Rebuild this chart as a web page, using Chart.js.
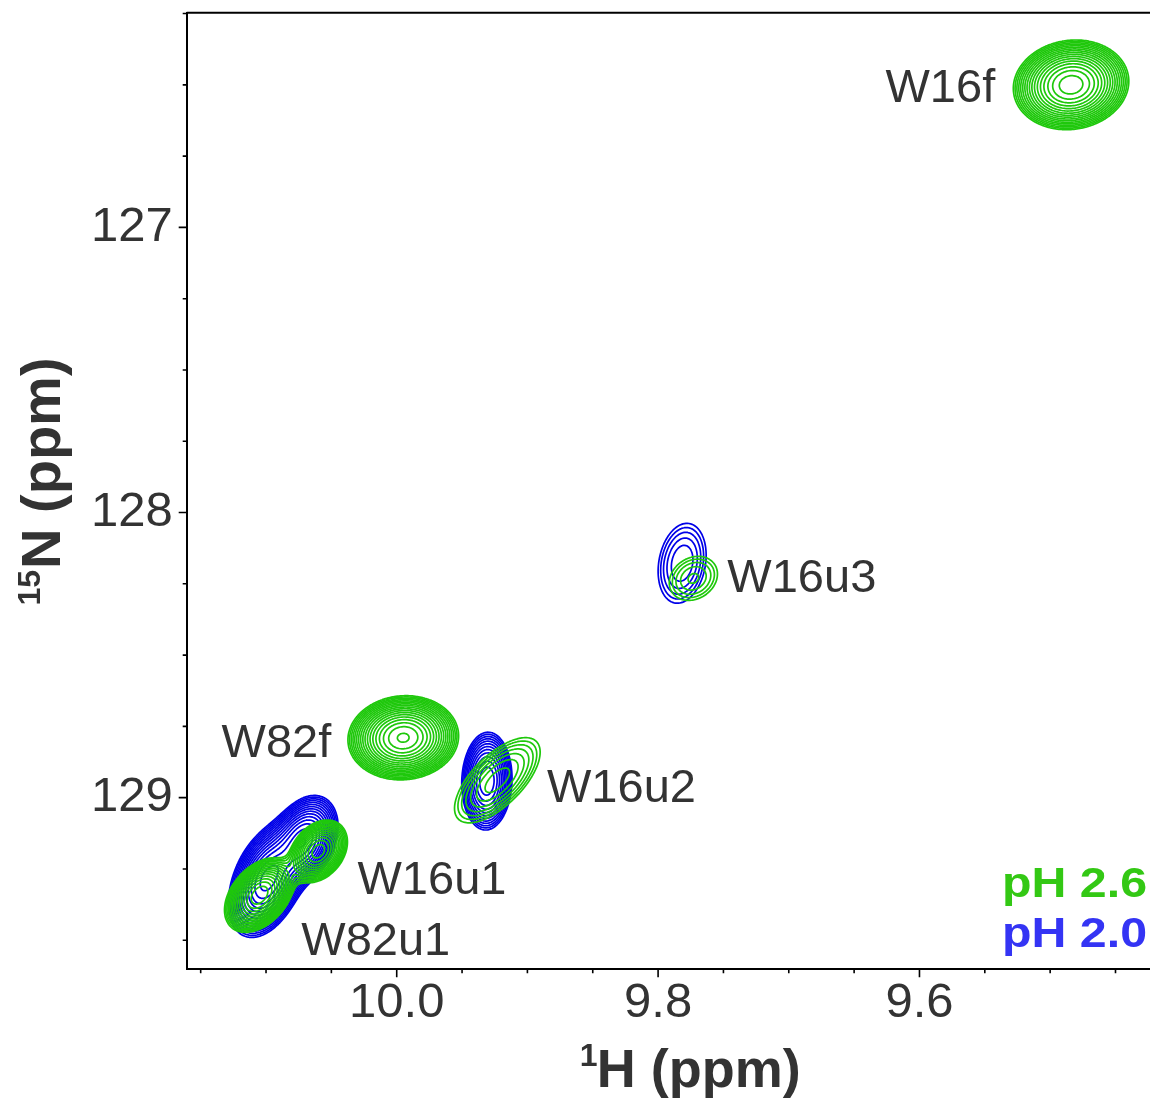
<!DOCTYPE html>
<html>
<head>
<meta charset="utf-8">
<script src="https://cdn.jsdelivr.net/npm/chart.js@4"></script>
<style>
  html, body { margin: 0; padding: 0; background: #fff; overflow: hidden; }
  #wrap { width: 1150px; height: 1098px; position: relative; }
</style>
</head>
<body>
<div id="wrap"><canvas id="myChart"></canvas></div>
<script>
var ctx = document.getElementById("myChart").getContext("2d");

// axis ticks (1H and 15N, both reversed)
const xTicks = [10.15, 10.10, 10.05, 10.00, 9.95, 9.90, 9.85, 9.80, 9.75, 9.70, 9.65, 9.60, 9.55, 9.50, 9.45];
const xTickLabels = ["10.0", "9.8", "9.6"];
const yTicks = [126.25, 126.5, 126.75, 127, 127.25, 127.5, 127.75, 128, 128.25, 128.5, 128.75, 129, 129.25, 129.5];
const yTickLabels = ["127", "128", "129"];

// contour levels (multiples of the base level)
const levels = [1.00, 1.20, 1.44, 1.73, 2.07, 2.49, 2.99, 3.58, 4.30, 5.16, 6.19, 7.43, 8.92, 10.70, 12.84, 15.41, 18.49, 22.19, 26.62];

// pH 2.6 peaks (green)
const greenNames  = ["W16f", "W82f", "W16u2", "W16u3", "W16u1", "W82u1"];
const greenShiftH = [9.484, 9.995, 9.923, 9.773, 10.060, 10.105];
const greenShiftN = [126.500, 128.790, 128.939, 128.231, 129.188, 129.342];
const greenHeight = [21, 23, 3.3, 2.15, 12, 15];
const greenWidthH = [0.0179, 0.0169, 0.0212, 0.0149, 0.0100, 0.0115];
const greenWidthN = [0.0637, 0.0589, 0.0967, 0.0624, 0.0491, 0.0561];
const greenCorr   = [0.08, 0.05, 0.66, 0.2, 0.3, 0.4];

// pH 2.0 peaks (blue)
const blueNames  = ["W16u2", "W16u3", "W16u1", "W82u1"];
const blueShiftH = [9.931, 9.7816, 10.0705, 10.0989];
const blueShiftN = [128.942, 128.178, 129.149, 129.289];
const blueHeight = [8.9, 2.49, 12, 14];
const blueWidthH = [0.0092, 0.0136, 0.0115, 0.0130];
const blueWidthN = [0.0820, 0.1037, 0.0701, 0.0876];
const blueCorr   = [0.05, 0.2, 0.3, 0.4];

// peak assignment labels (left edge / baseline)
const peakLabels = ["W16f", "W16u3", "W82f", "W16u2", "W16u1", "W82u1"];
const labelH = [9.626, 9.747, 10.134, 9.885, 10.030, 10.073];
const labelN = [126.559, 128.280, 128.858, 129.016, 129.338, 129.552];

const GREEN = "#1fc80c";
const BLUE = "#0000e8";
const FONT = '"Liberation Sans", Arial, sans-serif';

function makePeaks(h, n, amp, wh, wn, rho) {
  return h.map((v, i) => ({ h: v, n: n[i], amp: amp[i], wh: wh[i], wn: wn[i], rho: rho[i] }));
}
const greenPeaks = makePeaks(greenShiftH, greenShiftN, greenHeight, greenWidthH, greenWidthN, greenCorr);
const bluePeaks = makePeaks(blueShiftH, blueShiftN, blueHeight, blueWidthH, blueWidthN, blueCorr);

function tickText(v, labels) {
  for (const l of labels) if (Math.abs(parseFloat(l) - v) < 1e-6) return l;
  return "";
}

// contour drawing: gaussian sum on a pixel grid, marching squares
function drawContours(chart, peaks, color) {
  const c = chart.ctx, area = chart.chartArea, xs = chart.scales.x, ys = chart.scales.y;
  const g = peaks.map(p => {
    const cx = xs.getPixelForValue(p.h), cy = ys.getPixelForValue(p.n);
    const sx = Math.abs(xs.getPixelForValue(p.h + p.wh) - cx);
    const sy = Math.abs(ys.getPixelForValue(p.n + p.wn) - cy);
    const sgn = Math.sign(xs.getPixelForValue(p.h + 1) - cx) * Math.sign(ys.getPixelForValue(p.n + 1) - cy);
    const r = p.rho * sgn;
    return { cx, cy, sx, sy, r, k: 1 / (1 - r * r), a: p.amp };
  });
  let x0 = Infinity, x1 = -Infinity, y0 = Infinity, y1 = -Infinity;
  g.forEach(p => {
    x0 = Math.min(x0, p.cx - 4.5 * p.sx); x1 = Math.max(x1, p.cx + 4.5 * p.sx);
    y0 = Math.min(y0, p.cy - 4.5 * p.sy); y1 = Math.max(y1, p.cy + 4.5 * p.sy);
  });
  x0 = Math.max(x0, area.left); x1 = Math.min(x1, area.right);
  y0 = Math.max(y0, area.top); y1 = Math.min(y1, area.bottom);
  const st = 1.5;
  const nx = Math.floor((x1 - x0) / st) + 1, ny = Math.floor((y1 - y0) / st) + 1;
  const f = new Float32Array(nx * ny);
  for (let j = 0; j < ny; j++) {
    const py = y0 + j * st;
    for (let i = 0; i < nx; i++) {
      const px = x0 + i * st;
      let v = 0;
      for (const p of g) {
        const dx = (px - p.cx) / p.sx, dy = (py - p.cy) / p.sy;
        const q = (dx * dx - 2 * p.r * dx * dy + dy * dy) * p.k;
        if (q < 40) v += p.a * Math.exp(-0.5 * q);
      }
      f[j * nx + i] = v;
    }
  }
  c.save();
  c.beginPath();
  c.rect(area.left, area.top, area.right - area.left, area.bottom - area.top);
  c.clip();
  c.strokeStyle = color;
  c.lineWidth = 1.7;
  c.lineCap = "round";
  c.lineJoin = "round";
  for (const L of levels) {
    c.beginPath();
    for (let j = 0; j < ny - 1; j++) {
      for (let i = 0; i < nx - 1; i++) {
        const a = f[j * nx + i], b = f[j * nx + i + 1], cc = f[(j + 1) * nx + i + 1], d = f[(j + 1) * nx + i];
        const idx = (a > L ? 8 : 0) | (b > L ? 4 : 0) | (cc > L ? 2 : 0) | (d > L ? 1 : 0);
        if (idx === 0 || idx === 15) continue;
        const x = x0 + i * st, y = y0 + j * st;
        const T = () => [x + st * (L - a) / (b - a), y];
        const R = () => [x + st, y + st * (L - b) / (cc - b)];
        const B = () => [x + st * (L - d) / (cc - d), y + st];
        const Lf = () => [x, y + st * (L - a) / (d - a)];
        const seg = (p, q) => { c.moveTo(p[0], p[1]); c.lineTo(q[0], q[1]); };
        switch (idx) {
          case 1: case 14: seg(Lf(), B()); break;
          case 2: case 13: seg(B(), R()); break;
          case 3: case 12: seg(Lf(), R()); break;
          case 4: case 11: seg(T(), R()); break;
          case 6: case 9: seg(T(), B()); break;
          case 7: case 8: seg(Lf(), T()); break;
          case 5: seg(Lf(), T()); seg(B(), R()); break;
          case 10: seg(T(), R()); seg(Lf(), B()); break;
        }
      }
    }
    c.stroke();
  }
  c.restore();
}

const spectrumPlugin = {
  id: "spectrum",
  beforeDatasetsDraw(chart) {
    drawContours(chart, bluePeaks, BLUE);
    drawContours(chart, greenPeaks, GREEN);
  },
  afterDraw(chart) {
    const c = chart.ctx, area = chart.chartArea, xs = chart.scales.x, ys = chart.scales.y;
    c.save();
    // frame top
    c.strokeStyle = "#000";
    c.lineWidth = 2;
    c.beginPath();
    c.moveTo(area.left, area.top);
    c.lineTo(area.right, area.top);
    c.stroke();
    // ticks
    c.lineWidth = 1.6;
    c.beginPath();
    xTicks.forEach(v => {
      const px = xs.getPixelForValue(v);
      const len = tickText(v, xTickLabels) ? 8 : 4;
      c.moveTo(px, area.bottom); c.lineTo(px, area.bottom + len);
    });
    yTicks.forEach(v => {
      const py = ys.getPixelForValue(v);
      const len = tickText(v, yTickLabels) ? 8 : 4;
      c.moveTo(area.left, py); c.lineTo(area.left - len, py);
    });
    c.stroke();

    // peak labels
    c.fillStyle = "#333";
    c.font = "47px " + FONT;
    c.textAlign = "left";
    c.textBaseline = "alphabetic";
    peakLabels.forEach((t, i) => {
      c.fillText(t, xs.getPixelForValue(labelH[i]), ys.getPixelForValue(labelN[i]));
    });

    // axis titles
    const bold = s => "bold " + s + "px " + FONT;
    c.fillStyle = "#333";
    c.font = bold(32);
    c.fillText("1", area.left + 393, 1066);
    c.font = bold(54);
    c.fillText("H (ppm)", area.left + 410, 1087);

    c.translate(60, (area.top + area.bottom) / 2 - 9);
    c.rotate(-Math.PI / 2);
    c.font = bold(32);
    const w1 = c.measureText("15").width;
    c.font = bold(56);
    const w2 = c.measureText("N (ppm)").width;
    const sx = -(w1 + w2) / 2;
    c.font = bold(32);
    c.fillText("15", sx, -20);
    c.font = bold(56);
    c.fillText("N (ppm)", sx + w1 + 1, 0);
    c.restore();

    // sample legend
    c.save();
    c.font = bold(42);
    c.textAlign = "right";
    const legendY = [897, 947];
    chart.data.datasets.slice().reverse().forEach((ds, i) => {
      c.save();
      c.translate(area.right - 3, legendY[i]);
      c.scale(1.15, 1);
      c.fillStyle = ds.textColor;
      c.fillText(ds.label, 0, 0);
      c.restore();
    });
    c.restore();
  }
};

function noPad(s) {
  s.paddingTop = 0; s.paddingBottom = 0; s.paddingLeft = 0; s.paddingRight = 0;
}

const chart = new Chart(ctx, {
  type: "scatter",
  data: {
    datasets: [{
      label: "pH 2.0",
      textColor: "#3434f4",
      data: blueShiftH.map((v, i) => ({ x: v, y: blueShiftN[i] })),
      pointRadius: 0,
      borderColor: BLUE
    }, {
      label: "pH 2.6",
      textColor: "#33c814",
      data: greenShiftH.map((v, i) => ({ x: v, y: greenShiftN[i] })),
      pointRadius: 0,
      borderColor: GREEN
    }]
  },
  options: {
    responsive: true,
    maintainAspectRatio: false,
    animation: false,
    layout: { padding: { top: 12.7, left: 0, right: 0, bottom: 0 } },
    plugins: { legend: { display: false }, tooltip: { enabled: false } },
    scales: {
      x: {
        type: "linear",
        min: 9.4236,
        max: 10.1607,
        reverse: true,
        afterFit: s => { s.height = 128.7; noPad(s); },
        afterBuildTicks: s => { s.ticks = xTicks.map(v => ({ value: v })); },
        grid: { display: false, drawTicks: false },
        border: { display: true, color: "#000", width: 2 },
        ticks: {
          autoSkip: false, maxRotation: 0, padding: 5,
          color: "#333", font: { family: FONT, size: 49 },
          callback: v => tickText(v, xTickLabels)
        }
      },
      y: {
        type: "linear",
        min: 126.247,
        max: 129.602,
        reverse: true,
        afterFit: s => { s.width = 186.7; noPad(s); },
        afterBuildTicks: s => { s.ticks = yTicks.map(v => ({ value: v })); },
        grid: { display: false, drawTicks: false },
        border: { display: true, color: "#000", width: 2 },
        ticks: {
          autoSkip: false, padding: 14,
          color: "#333", font: { family: FONT, size: 49 },
          callback: v => tickText(v, yTickLabels)
        }
      }
    }
  },
  plugins: [spectrumPlugin]
});
</script>
</body>
</html>
